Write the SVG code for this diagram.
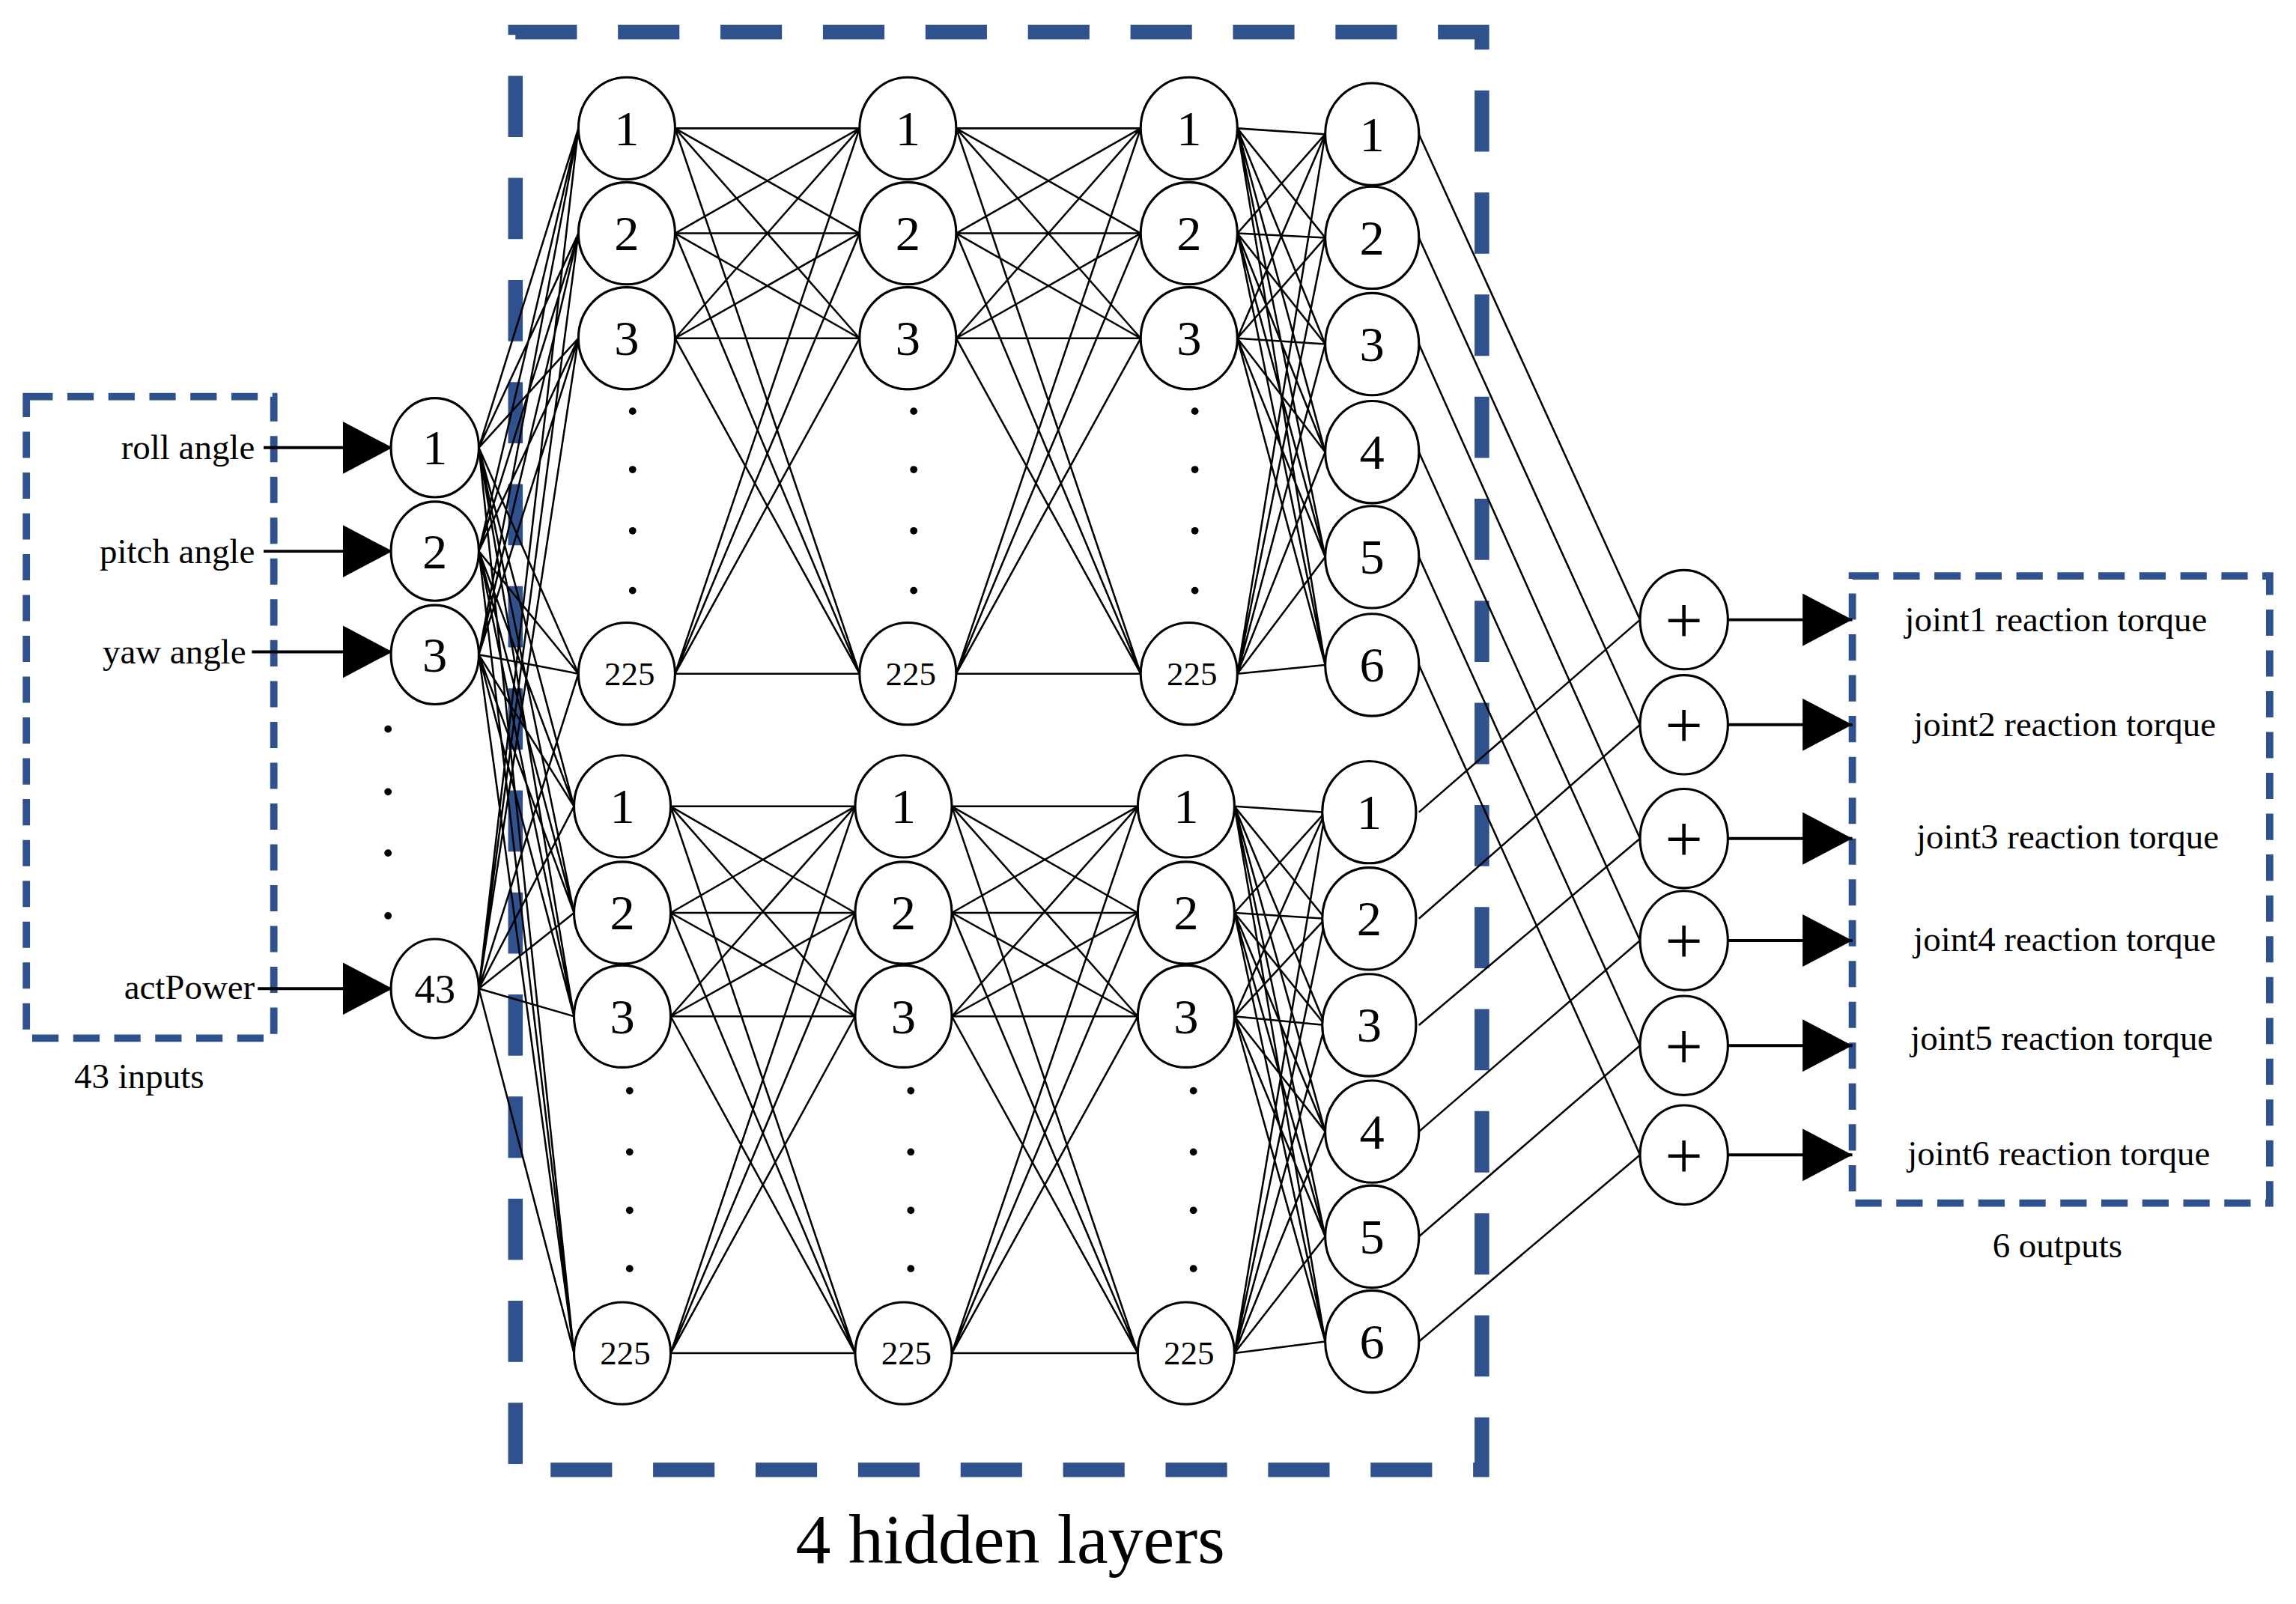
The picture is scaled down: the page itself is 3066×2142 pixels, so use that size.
<svg xmlns="http://www.w3.org/2000/svg" width="3066" height="2142" viewBox="0 0 3066 2142">
<style>
.n{fill:#fff;stroke:#000;stroke-width:1.6}
.t{font-family:"Liberation Serif",serif;font-size:34px;text-anchor:middle;dominant-baseline:central;fill:#000}
.s{font-size:23px}
.p{font-size:46px}
.lb{font-family:"Liberation Serif",serif;font-size:24px;fill:#000}
.c{fill:none;stroke:#000;stroke-width:1.3}
.a{fill:none;stroke:#000;stroke-width:2;marker-end:url(#ar)}
.box{fill:none;stroke:#2f528f}
.dot{fill:#000}
</style>
<defs>
<marker id="ar" markerUnits="userSpaceOnUse" markerWidth="36" markerHeight="36" refX="34" refY="18" orient="auto"><path d="M0,0 L34,18 L0,36 Z" fill="#000"/></marker>
</defs>
<rect width="3066" height="2142" fill="#fff"/>
<g transform="scale(1.9554,1.9473)">
<g id="boxes">
<rect class="box" x="352" y="22" width="660" height="986" stroke-width="10" stroke-dasharray="42 28"/>
<rect class="box" x="18" y="272" width="169" height="440" stroke-width="5" stroke-dasharray="18 10"/>
<rect class="box" x="1265" y="395" width="285" height="430" stroke-width="5" stroke-dasharray="18 10"/>
</g>
<g id="connectors">
<path class="a" d="M180 307H268"/><path class="a" d="M180 378H268"/><path class="a" d="M172 447H268"/><path class="a" d="M176 678H268"/>
<path class="a" d="M1180 425H1265"/><path class="a" d="M1180 497H1265"/><path class="a" d="M1180 575H1265"/><path class="a" d="M1180 645H1265"/><path class="a" d="M1180 717H1265"/><path class="a" d="M1180 792H1265"/>
<path class="c" d="M327 307L395 88M327 307L395 160M327 307L395 232M327 307L395 462M327 307L392 553M327 307L392 626M327 307L392 697M327 307L392 928
M327 378L395 88M327 378L395 160M327 378L395 232M327 378L395 462M327 378L392 553M327 378L392 626M327 378L392 697M327 378L392 928
M327 449L395 88M327 449L395 160M327 449L395 232M327 449L395 462M327 449L392 553M327 449L392 626M327 449L392 697M327 449L392 928
M327 678L395 88M327 678L395 160M327 678L395 232M327 678L395 462M327 678L392 553M327 678L392 626M327 678L392 697M327 678L392 928"/>
<path class="c" d="M461 88L587 88M461 88L587 160M461 88L587 232M461 88L587 462M461 160L587 88M461 160L587 160M461 160L587 232M461 160L587 462M461 232L587 88M461 232L587 160M461 232L587 232M461 232L587 462M461 462L587 88M461 462L587 160M461 462L587 232M461 462L587 462
M653 88L779 88M653 88L779 160M653 88L779 232M653 88L779 462M653 160L779 88M653 160L779 160M653 160L779 232M653 160L779 462M653 232L779 88M653 232L779 160M653 232L779 232M653 232L779 462M653 462L779 88M653 462L779 160M653 462L779 232M653 462L779 462
M458 553L584 553M458 553L584 626M458 553L584 697M458 553L584 928M458 626L584 553M458 626L584 626M458 626L584 697M458 626L584 928M458 697L584 553M458 697L584 626M458 697L584 697M458 697L584 928M458 928L584 553M458 928L584 626M458 928L584 697M458 928L584 928
M650 553L777 553M650 553L777 626M650 553L777 697M650 553L777 928M650 626L777 553M650 626L777 626M650 626L777 697M650 626L777 928M650 697L777 553M650 697L777 626M650 697L777 697M650 697L777 928M650 928L777 553M650 928L777 626M650 928L777 697M650 928L777 928"/>
<path class="c" d="M845 88L905 92M845 88L905 163M845 88L905 236M845 88L905 310M845 88L905 382M845 88L905 456
M845 160L905 92M845 160L905 163M845 160L905 236M845 160L905 310M845 160L905 382M845 160L905 456
M845 232L905 92M845 232L905 163M845 232L905 236M845 232L905 310M845 232L905 382M845 232L905 456
M845 462L905 92M845 462L905 163M845 462L905 236M845 462L905 310M845 462L905 382M845 462L905 456
M843 553L905 557M843 553L905 630M843 553L905 703M843 553L905 776M843 553L905 848M843 553L905 920
M843 626L905 557M843 626L905 630M843 626L905 703M843 626L905 776M843 626L905 848M843 626L905 920
M843 697L905 557M843 697L905 630M843 697L905 703M843 697L905 776M843 697L905 848M843 697L905 920
M843 928L905 557M843 928L905 630M843 928L905 703M843 928L905 776M843 928L905 848M843 928L905 920"/>
<path class="c" d="M969 92L1120 425M969 163L1120 497M969 236L1120 575M969 310L1120 645M969 382L1120 717M969 456L1120 792
M969 557L1120 425M969 630L1120 497M969 703L1120 575M969 776L1120 645M969 848L1120 717M969 920L1120 792"/>
</g>
<g id="input-labels" class="lb" text-anchor="end">
<text x="174" y="315">roll angle</text>
<text x="174" y="386">pitch angle</text>
<text x="168" y="455">yaw angle</text>
<text x="174" y="685">actPower</text>
</g>
<g id="inputs">
<ellipse class="n" cx="297" cy="307" rx="30" ry="34"/><text class="t" x="297" y="307">1</text>
<ellipse class="n" cx="297" cy="378" rx="30" ry="34"/><text class="t" x="297" y="378">2</text>
<ellipse class="n" cx="297" cy="449" rx="30" ry="34"/><text class="t" x="297" y="449">3</text>
<ellipse class="n" cx="297" cy="678" rx="30" ry="34"/><text class="t" x="297" y="678" style="font-size:28px">43</text>
<circle class="dot" cx="265" cy="500" r="2.5"/><circle class="dot" cx="265" cy="543" r="2.5"/><circle class="dot" cx="265" cy="585" r="2.5"/><circle class="dot" cx="265" cy="628" r="2.5"/>
</g>
<g id="hidden1">
<ellipse class="n" cx="428" cy="88" rx="33" ry="35"/><text class="t" x="428" y="88">1</text>
<ellipse class="n" cx="428" cy="160" rx="33" ry="35"/><text class="t" x="428" y="160">2</text>
<ellipse class="n" cx="428" cy="232" rx="33" ry="35"/><text class="t" x="428" y="232">3</text>
<ellipse class="n" cx="428" cy="462" rx="33" ry="35"/><text class="t s" x="430" y="462">225</text>
<ellipse class="n" cx="425" cy="553" rx="33" ry="35"/><text class="t" x="425" y="553">1</text>
<ellipse class="n" cx="425" cy="626" rx="33" ry="35"/><text class="t" x="425" y="626">2</text>
<ellipse class="n" cx="425" cy="697" rx="33" ry="35"/><text class="t" x="425" y="697">3</text>
<ellipse class="n" cx="425" cy="928" rx="33" ry="35"/><text class="t s" x="427" y="928">225</text>
</g>
<g id="hidden2">
<ellipse class="n" cx="620" cy="88" rx="33" ry="35"/><text class="t" x="620" y="88">1</text>
<ellipse class="n" cx="620" cy="160" rx="33" ry="35"/><text class="t" x="620" y="160">2</text>
<ellipse class="n" cx="620" cy="232" rx="33" ry="35"/><text class="t" x="620" y="232">3</text>
<ellipse class="n" cx="620" cy="462" rx="33" ry="35"/><text class="t s" x="622" y="462">225</text>
<ellipse class="n" cx="617" cy="553" rx="33" ry="35"/><text class="t" x="617" y="553">1</text>
<ellipse class="n" cx="617" cy="626" rx="33" ry="35"/><text class="t" x="617" y="626">2</text>
<ellipse class="n" cx="617" cy="697" rx="33" ry="35"/><text class="t" x="617" y="697">3</text>
<ellipse class="n" cx="617" cy="928" rx="33" ry="35"/><text class="t s" x="619" y="928">225</text>
</g>
<g id="hidden3">
<ellipse class="n" cx="812" cy="88" rx="33" ry="35"/><text class="t" x="812" y="88">1</text>
<ellipse class="n" cx="812" cy="160" rx="33" ry="35"/><text class="t" x="812" y="160">2</text>
<ellipse class="n" cx="812" cy="232" rx="33" ry="35"/><text class="t" x="812" y="232">3</text>
<ellipse class="n" cx="812" cy="462" rx="33" ry="35"/><text class="t s" x="814" y="462">225</text>
<ellipse class="n" cx="810" cy="553" rx="33" ry="35"/><text class="t" x="810" y="553">1</text>
<ellipse class="n" cx="810" cy="626" rx="33" ry="35"/><text class="t" x="810" y="626">2</text>
<ellipse class="n" cx="810" cy="697" rx="33" ry="35"/><text class="t" x="810" y="697">3</text>
<ellipse class="n" cx="810" cy="928" rx="33" ry="35"/><text class="t s" x="812" y="928">225</text>
</g>
<g id="dots">
<circle class="dot" cx="432" cy="282" r="2.5"/><circle class="dot" cx="432" cy="322" r="2.5"/><circle class="dot" cx="432" cy="364" r="2.5"/><circle class="dot" cx="432" cy="405" r="2.5"/>
<circle class="dot" cx="624" cy="282" r="2.5"/><circle class="dot" cx="624" cy="322" r="2.5"/><circle class="dot" cx="624" cy="364" r="2.5"/><circle class="dot" cx="624" cy="405" r="2.5"/>
<circle class="dot" cx="816" cy="282" r="2.5"/><circle class="dot" cx="816" cy="322" r="2.5"/><circle class="dot" cx="816" cy="364" r="2.5"/><circle class="dot" cx="816" cy="405" r="2.5"/>
<circle class="dot" cx="430" cy="748" r="2.5"/><circle class="dot" cx="430" cy="790" r="2.5"/><circle class="dot" cx="430" cy="830" r="2.5"/><circle class="dot" cx="430" cy="870" r="2.5"/>
<circle class="dot" cx="622" cy="748" r="2.5"/><circle class="dot" cx="622" cy="790" r="2.5"/><circle class="dot" cx="622" cy="830" r="2.5"/><circle class="dot" cx="622" cy="870" r="2.5"/>
<circle class="dot" cx="815" cy="748" r="2.5"/><circle class="dot" cx="815" cy="790" r="2.5"/><circle class="dot" cx="815" cy="830" r="2.5"/><circle class="dot" cx="815" cy="870" r="2.5"/>
</g>
<g id="outputs">
<ellipse class="n" cx="937" cy="92" rx="32" ry="35"/><text class="t" x="937" y="92">1</text>
<ellipse class="n" cx="937" cy="163" rx="32" ry="35"/><text class="t" x="937" y="163">2</text>
<ellipse class="n" cx="937" cy="236" rx="32" ry="35"/><text class="t" x="937" y="236">3</text>
<ellipse class="n" cx="937" cy="310" rx="32" ry="35"/><text class="t" x="937" y="310">4</text>
<ellipse class="n" cx="937" cy="382" rx="32" ry="35"/><text class="t" x="937" y="382">5</text>
<ellipse class="n" cx="937" cy="456" rx="32" ry="35"/><text class="t" x="937" y="456">6</text>
<ellipse class="n" cx="935" cy="557" rx="32" ry="35"/><text class="t" x="935" y="557">1</text>
<ellipse class="n" cx="935" cy="630" rx="32" ry="35"/><text class="t" x="935" y="630">2</text>
<ellipse class="n" cx="935" cy="703" rx="32" ry="35"/><text class="t" x="935" y="703">3</text>
<ellipse class="n" cx="937" cy="776" rx="32" ry="35"/><text class="t" x="937" y="776">4</text>
<ellipse class="n" cx="937" cy="848" rx="32" ry="35"/><text class="t" x="937" y="848">5</text>
<ellipse class="n" cx="937" cy="920" rx="32" ry="35"/><text class="t" x="937" y="920">6</text>
</g>
<g id="sums">
<ellipse class="n" cx="1150" cy="425" rx="30" ry="34"/><text class="t p" x="1150" y="425">+</text>
<ellipse class="n" cx="1150" cy="497" rx="30" ry="34"/><text class="t p" x="1150" y="497">+</text>
<ellipse class="n" cx="1150" cy="575" rx="30" ry="34"/><text class="t p" x="1150" y="575">+</text>
<ellipse class="n" cx="1150" cy="645" rx="30" ry="34"/><text class="t p" x="1150" y="645">+</text>
<ellipse class="n" cx="1150" cy="717" rx="30" ry="34"/><text class="t p" x="1150" y="717">+</text>
<ellipse class="n" cx="1150" cy="792" rx="30" ry="34"/><text class="t p" x="1150" y="792">+</text>
</g>
<g id="output-labels" class="lb" text-anchor="middle">
<text x="1404" y="433">joint1 reaction torque</text>
<text x="1410" y="505">joint2 reaction torque</text>
<text x="1412" y="582">joint3 reaction torque</text>
<text x="1410" y="652">joint4 reaction torque</text>
<text x="1408" y="720">joint5 reaction torque</text>
<text x="1406" y="799">joint6 reaction torque</text>
</g>
<g id="captions">
<text class="lb" x="95" y="746" text-anchor="middle">43 inputs</text>
<text class="lb" x="1405" y="862" text-anchor="middle">6 outputs</text>
<text x="690" y="1072" text-anchor="middle" style="font-family:'Liberation Serif',serif;font-size:48px">4 hidden layers</text>
</g>
</g>
</svg>
